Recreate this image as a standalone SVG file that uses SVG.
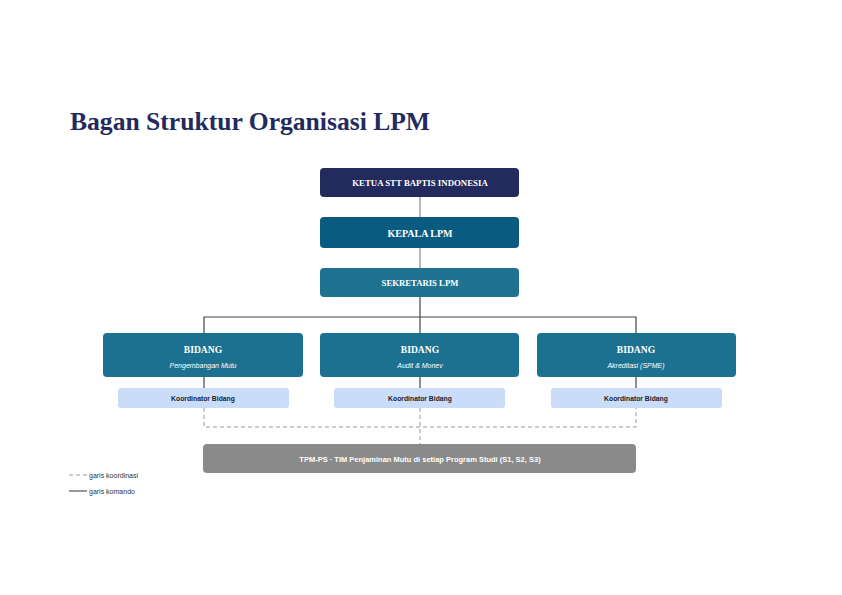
<svg xmlns="http://www.w3.org/2000/svg" width="842" height="595" viewBox="0 0 842 595">
<style>
.serif{font-family:"Liberation Serif","DejaVu Serif",serif;font-weight:bold;fill:#fff;text-anchor:middle}
.sans{font-family:"Liberation Sans","Noto Sans",sans-serif;text-anchor:middle}
.cmd{stroke:#444;stroke-width:1.2;fill:none}
.cmdg{stroke:#8a8a8a;stroke-width:1.2;fill:none}
.coord{stroke:#999;stroke-width:1;stroke-dasharray:4 3;fill:none}
.bid{fill:#1d7190}
.koor{fill:#c9dcf8}
</style>
<rect width="842" height="595" fill="#fff"/>
<text x="70" y="130" font-family="Liberation Serif, DejaVu Serif, serif" font-weight="bold" font-size="25.6" fill="#232a5e">Bagan Struktur Organisasi LPM</text>
<g id="connectors">
<line class="cmdg" x1="420" y1="197" x2="420" y2="217"/>
<line class="cmdg" x1="420" y1="248" x2="420" y2="268"/>
<line class="cmd" x1="420" y1="297" x2="420" y2="333"/>
<polyline class="cmd" points="204,333 204,317 636,317 636,333" stroke="#777"/>
<line class="cmd" x1="204" y1="377" x2="204" y2="388"/>
<line class="cmd" x1="420" y1="377" x2="420" y2="388"/>
<line class="cmd" x1="636" y1="377" x2="636" y2="388"/>
<polyline class="coord" points="204,408 204,427 636,427 636,408"/>
<line class="coord" x1="420" y1="408" x2="420" y2="444"/>
</g>
<g id="ketua">
<rect x="320" y="168" width="199" height="29" rx="4" fill="#222a5e"/>
<text class="serif" x="420" y="186.3" font-size="8.8">KETUA STT BAPTIS INDONESIA</text>
</g>
<g id="kepala">
<rect x="320" y="217" width="199" height="31" rx="4" fill="#0b5a7f"/>
<text class="serif" x="420" y="236.5" font-size="10">KEPALA LPM</text>
</g>
<g id="sekretaris">
<rect x="320" y="268" width="199" height="29" rx="4" fill="#1f7391"/>
<text class="serif" x="420" y="286" font-size="8.7">SEKRETARIS LPM</text>
</g>
<g id="bidang1">
<rect class="bid" x="103" y="333" width="200" height="44" rx="4"/>
<text class="serif" x="203" y="352.8" font-size="9.6">BIDANG</text>
<text class="sans" x="203" y="367.5" font-size="7" font-style="italic" fill="#fff">Pengembangan Mutu</text>
</g>
<g id="bidang2">
<rect class="bid" x="320" y="333" width="199" height="44" rx="4"/>
<text class="serif" x="420" y="352.8" font-size="9.6">BIDANG</text>
<text class="sans" x="420" y="367.5" font-size="7" font-style="italic" fill="#fff">Audit &amp; Monev</text>
</g>
<g id="bidang3">
<rect class="bid" x="537" y="333" width="199" height="44" rx="4"/>
<text class="serif" x="636" y="352.8" font-size="9.6">BIDANG</text>
<text class="sans" x="636" y="367.5" font-size="7" font-style="italic" fill="#fff">Akreditasi (SPME)</text>
</g>
<g id="koordinator1">
<rect class="koor" x="118" y="388" width="171" height="20" rx="3"/>
<text class="sans" x="203" y="400.5" font-size="6.8" font-weight="bold" fill="#1e2230">Koordinator Bidang</text>
</g>
<g id="koordinator2">
<rect class="koor" x="334" y="388" width="171" height="20" rx="3"/>
<text class="sans" x="420" y="400.5" font-size="6.8" font-weight="bold" fill="#1e2230">Koordinator Bidang</text>
</g>
<g id="koordinator3">
<rect class="koor" x="551" y="388" width="171" height="20" rx="3"/>
<text class="sans" x="636" y="400.5" font-size="6.8" font-weight="bold" fill="#1e2230">Koordinator Bidang</text>
</g>
<g id="tpm">
<rect x="203" y="444" width="433" height="29" rx="4" fill="#8a8a8a"/>
<text class="sans" x="420" y="461.5" font-size="7.5" font-weight="bold" fill="#fff">TPM-PS  ·  TIM Penjaminan Mutu di setiap Program Studi (S1, S2, S3)</text>
</g>
<g id="legend">
<line class="coord" x1="69" y1="475" x2="87" y2="475"/>
<text x="89" y="477.5" font-family="Liberation Sans, sans-serif" font-size="7" fill="#333">garis koordinasi</text>
<line x1="69" y1="491" x2="87" y2="491" stroke="#555" stroke-width="1.2"/>
<text x="89" y="493.5" font-family="Liberation Sans, sans-serif" font-size="7" fill="#333">garis komando</text>
</g>
</svg>
